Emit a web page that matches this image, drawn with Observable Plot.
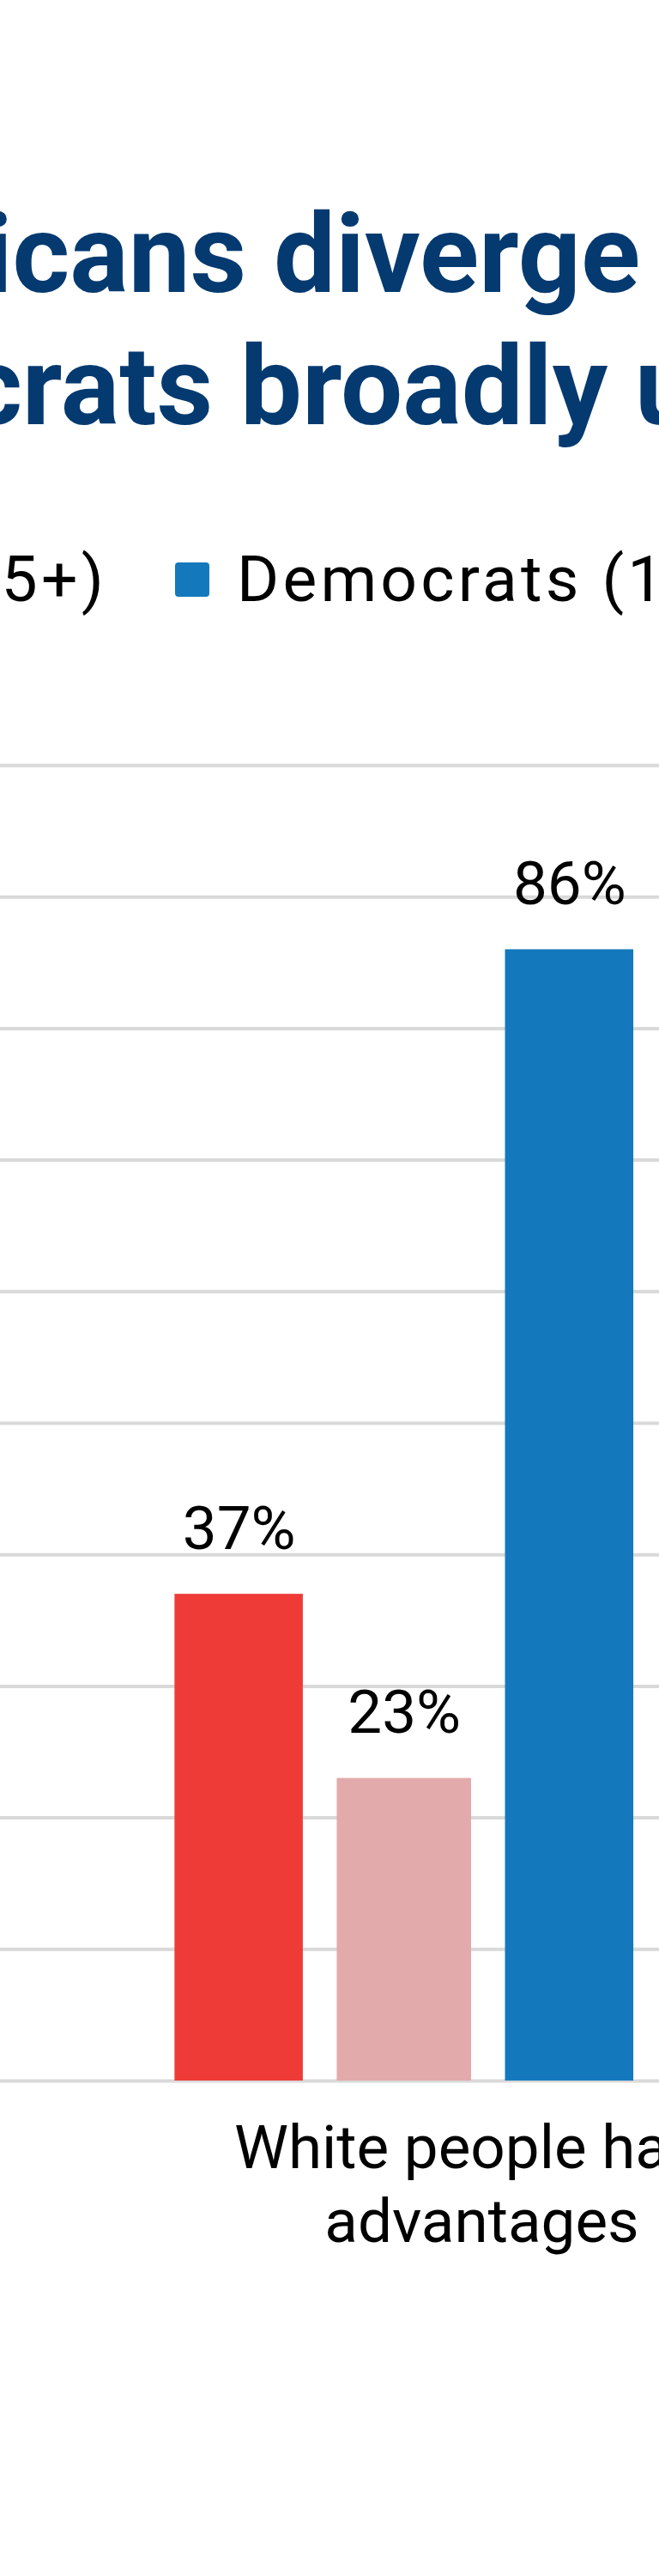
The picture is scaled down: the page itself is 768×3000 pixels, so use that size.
<!DOCTYPE html>
<html><head><meta charset="utf-8">
<script src="https://cdn.jsdelivr.net/npm/d3@7"></script>
<script src="https://cdn.jsdelivr.net/npm/@observablehq/plot@0.6"></script>
<style>
html,body{margin:0;padding:0;background:#fff;}
body{width:768px;height:3000px;overflow:hidden;position:relative;font-family:Roboto,"Noto Sans",sans-serif;}
.tline{position:absolute;white-space:nowrap;font-weight:700;font-size:128px;line-height:154px;color:#053a70;left:0;}
#legend{position:absolute;top:637px;left:0;white-space:nowrap;display:flex;align-items:center;font-size:75px;line-height:75px;letter-spacing:4.2px;color:#000;}
.item{display:flex;align-items:center;margin-right:79px;flex:none;}
.sw{width:40px;height:40px;border-radius:4px;margin-right:32px;flex:none;}
#chart{position:absolute;top:800px;left:0;}
#chart svg{max-width:none;overflow:hidden;}
</style></head><body>
<div id="t1" class="tline" style="top:219px"></div>
<div id="t2" class="tline" style="top:373px"></div>
<div id="legend"></div>
<div id="chart"></div>
<script>
// ---- data ----
const titleLines = ["Younger and older Republicans diverge on racial inequality,", "while Democrats broadly unite"];
const categories = ["White people have advantages"];
const categoryLabels = ["White people have\nadvantages"];
const seriesNames = ["Republicans (18\u201329)", "Republicans (65+)", "Democrats (18\u201329)", "Democrats (65+)"];
const seriesColors = ["#EE3B37", "#E2AAAB", "#1479BC", "#9CC3E4"];
const shownSeries = ["Republicans (18\u201329)", "Republicans (65+)", "Democrats (18\u201329)"];
const shownValues = [37, 23, 86];
const yTicks = [0, 10, 20, 30, 40, 50, 60, 70, 80, 90, 100];

const data = shownSeries.map((s, i) => ({category: categories[0], series: s, value: shownValues[i]}));

// ---- title ----
const t1 = document.getElementById("t1"), t2 = document.getElementById("t2");
t1.textContent = titleLines[0];
t2.textContent = titleLines[1];

// ---- legend ----
const legend = document.getElementById("legend");
seriesNames.forEach((s, i) => {
  const it = document.createElement("div"); it.className = "item";
  const sw = document.createElement("span"); sw.className = "sw"; sw.style.background = seriesColors[i];
  const lab = document.createElement("span"); lab.textContent = s;
  it.appendChild(sw); it.appendChild(lab); legend.appendChild(it);
});

// ---- chart ----
const W = 1536;
const chart = Plot.plot({
  width: W, height: 2200,
  marginTop: 91, marginBottom: 577, marginLeft: 0, marginRight: 402,
  style: {fontFamily: "Roboto, sans-serif", background: "white"},
  x: {domain: seriesNames, paddingInner: 0.2234, paddingOuter: 1.056, round: false, axis: null},
  y: {domain: [0, 100], axis: null},
  color: {domain: seriesNames, range: seriesColors},
  marks: [
    Plot.gridY(yTicks, {stroke: "#d9d9d9", strokeOpacity: 1, strokeWidth: 4}),
    Plot.barY(data.filter(d => d.series !== seriesNames[1]), {x: "series", y: "value", fill: "series"}),
    Plot.barY(data.filter(d => d.series === seriesNames[1]), {x: "series", y: "value", fill: "series", insetLeft: -3.5, insetRight: -3.5}),
    Plot.text(data, {x: "series", y: "value", text: d => `${d.value}%`, lineAnchor: "bottom", dy: -53, fontSize: 71, fill: "#000"}),
    Plot.text(categoryLabels, {frameAnchor: "bottom", text: d => d, lineAnchor: "bottom", lineHeight: 1.2, dy: 187, dx: -6, fontSize: 71, fill: "#000"})
  ]
});
document.getElementById("chart").appendChild(chart);

// ---- position the wide title / legend so the visible window matches ----
function placeAt(el, substr, offset, targetX) {
  const tn = el.firstChild;
  const idx = tn.textContent.indexOf(substr) + offset;
  const r = document.createRange();
  r.setStart(tn, idx); r.setEnd(tn, idx + 1);
  const x = r.getBoundingClientRect().left;
  el.style.left = (parseFloat(el.style.left || 0) + targetX - x) + "px";
}
function layout() {
  t1.style.left = "0px"; t2.style.left = "0px"; legend.style.left = "0px";
  placeAt(t1, "diverge", 0, 319);
  placeAt(t2, "broadly", 0, 280);
  const sw = legend.children[2].firstChild;
  const x = sw.getBoundingClientRect().left;
  legend.style.left = (204 - x) + "px";
}
layout();
if (document.fonts && document.fonts.ready) document.fonts.ready.then(layout);
</script>
</body></html>
